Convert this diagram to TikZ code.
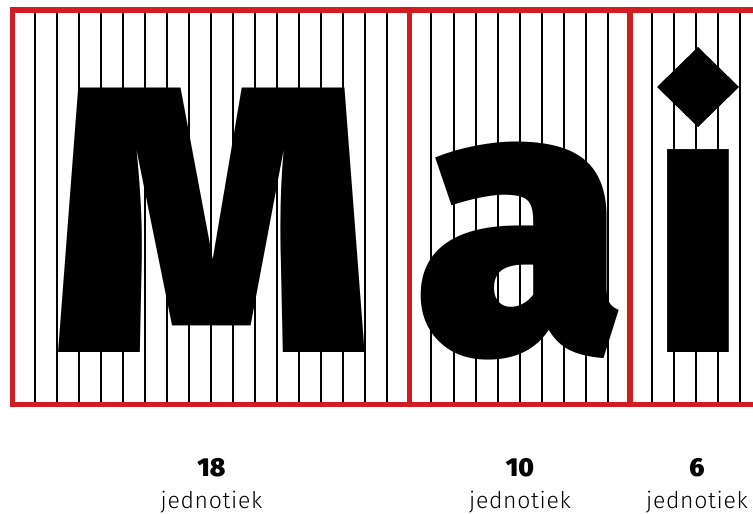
\documentclass[tikz,border=0pt]{standalone}
\usepackage{fontspec}
\newfontfamily\glyphfont{Fira Sans Black}
\newfontfamily\labelfont{Fira Sans Light}[LetterSpace=3]
\usetikzlibrary{positioning}
\definecolor{framered}{RGB}{210,28,36}

\begin{document}
\begin{tikzpicture}[
    x=1bp, y=-1bp,
    node distance=14.7bp,
    gridline/.style={line width=2bp, black},
    frameline/.style={line width=5.5bp, framered},
    glyph/.style={inner sep=0pt, anchor=base, font=\glyphfont\fontsize{380bp}{380bp}\selectfont},
    count/.style={inner sep=0pt, anchor=base, text height=18bp, text depth=0pt, font=\glyphfont\fontsize{26bp}{26bp}\selectfont},
    unitlabel/.style={inner sep=0pt, text height=17bp, text depth=5bp, font=\labelfont\fontsize{23bp}{23bp}\selectfont}
]
    \useasboundingbox (0,0) rectangle (753,514);

    % grid of units
    \foreach \k in {1,...,33}
        \draw [gridline] ({12.5+22.05*\k},10) -- ({12.5+22.05*\k},404.5);

    % letters
    \node (letterM) [glyph, xscale=1.06] at (211.5,352) {M};
    \node (letterA) [glyph] at (520,352) {a};
    \begin{scope}
        \clip (640,138) rectangle (753,400);
        \node (letterI) [glyph, xscale=0.82] at (698,352) {i};
    \end{scope}
    \fill (698,47) -- (739,87) -- (698,127) -- (657,87) -- cycle;

    % frames
    \draw [frameline] (753,10) -- (12.5,10) -- (12.5,404.5) -- (753,404.5);
    \draw [frameline] (409.4,10) -- (409.4,404.5);
    \draw [frameline] (629.9,10) -- (629.9,404.5);

    % labels
    \node (n18) [count] at (211.5,476) {18};
    \node (n10) [count] at (520,476) {10};
    \node (n6) [count] at (697,476) {6};
    \node (u18) [unitlabel, below=of n18] {jednotiek};
    \node (u10) [unitlabel, below=of n10] {jednotiek};
    \node (u6) [unitlabel, below=of n6] {jednotiek};
\end{tikzpicture}
\end{document}
